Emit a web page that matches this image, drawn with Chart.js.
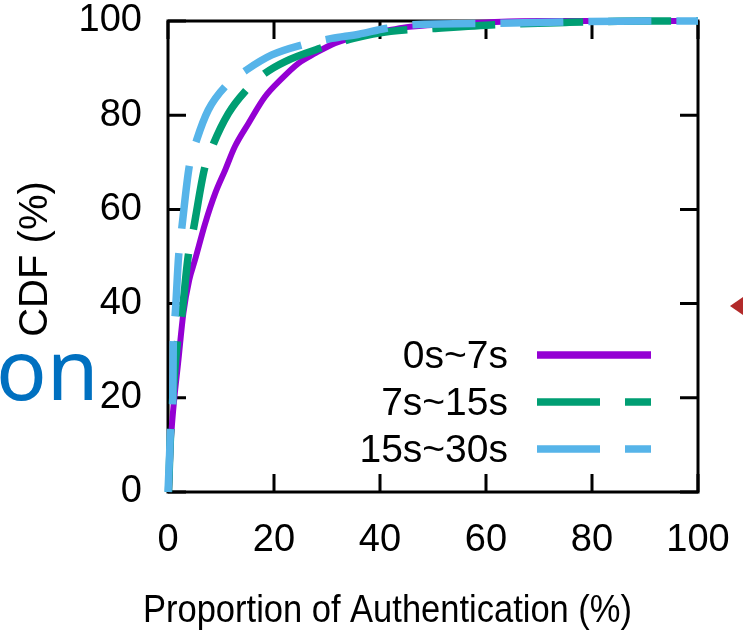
<!DOCTYPE html>
<html>
<head>
<meta charset="utf-8">
<script src="https://cdn.jsdelivr.net/npm/chart.js@4.4.1/dist/chart.umd.min.js"></script>
<style>
  html, body { margin: 0; padding: 0; background: #fff; }
  #wrap { width: 743px; height: 641px; position: relative; }
</style>
</head>
<body>
<div id="wrap"><canvas id="cdfChart"></canvas></div>
<script>
// CDF of authentication proportion, three time windows
const seriesLabels = ['0s~7s', '7s~15s', '15s~30s'];

const shortX = [0.2, 0.5, 0.8, 1.2, 1.9, 2.9, 4.0, 5.1, 7.0, 8.9, 10.8, 12.6, 15.2, 18.3, 21.5, 24.6, 27.7, 31.5, 36, 40.6, 45, 52, 60, 70, 100];
const shortY = [0, 10, 15, 20, 27.3, 38, 45, 49.3, 57.0, 63.4, 68.4, 73.3, 78.3, 83.9, 87.8, 91.0, 93.1, 95.3, 96.8, 97.8, 98.7, 99.3, 99.7, 100, 100];

const midX = [0.1, 0.4, 0.9, 1.7, 2.6, 3.8, 4.8, 6.9, 8.6, 11.4, 14.5, 18.3, 22.1, 28.7, 35, 42, 50, 62, 75, 90, 100];
const midY = [0, 10, 20, 31, 37.5, 50, 55.8, 68.7, 74.0, 80.4, 85.0, 88.9, 91.4, 94.2, 96.3, 97.8, 98.4, 99.2, 99.7, 100, 100];

const longX = [0, 0.3, 0.5, 0.9, 1.0, 1.3, 2.0, 2.6, 4.0, 5.4, 7.6, 10.8, 14.8, 19.6, 25.2, 30.9, 36, 41, 46, 62, 75, 90, 100];
const longY = [0, 8, 14, 19, 32, 37, 50, 56, 69.1, 74.7, 81.1, 86.1, 89.6, 92.8, 94.9, 96.3, 97.2, 98.4, 99.2, 99.5, 99.8, 100, 100];

const axisTicks = [0, 20, 40, 60, 80, 100];

const COLORS = ['#9400d3', '#009e73', '#56b4e9'];
const DASHES = [[], [63, 25], [63, 25]];
const WIDTHS = [6, 7.5, 7.5];
const FONT = '"Liberation Sans", Arial, sans-serif';

const toPoints = (xs, ys) => xs.map((x, i) => ({ x, y: ys[i] }));

/** frame, inward ticks, axis titles, in-plot legend, stray marks from the source page */
const gnuplotDecor = {
  id: 'gnuplotDecor',
  beforeDatasetsDraw(chart) {
    const { ctx, chartArea: a, scales } = chart;
    ctx.save();
    ctx.strokeStyle = '#000';
    ctx.lineWidth = 3;
    ctx.strokeRect(a.left, a.top, a.right - a.left, a.bottom - a.top);
    const tl = 18;
    ctx.beginPath();
    axisTicks.forEach(v => {
      const px = scales.x.getPixelForValue(v);
      ctx.moveTo(px, a.bottom); ctx.lineTo(px, a.bottom - tl);
      ctx.moveTo(px, a.top); ctx.lineTo(px, a.top + tl);
      const py = scales.y.getPixelForValue(v);
      ctx.moveTo(a.left, py); ctx.lineTo(a.left + tl, py);
      ctx.moveTo(a.right, py); ctx.lineTo(a.right - tl, py);
    });
    ctx.stroke();
    ctx.restore();
  },
  afterDraw(chart) {
    const { ctx } = chart;
    ctx.save();
    ctx.fillStyle = '#000';

    // y title
    ctx.font = '40px ' + FONT;
    ctx.textAlign = 'center';
    ctx.textBaseline = 'middle';
    ctx.save();
    ctx.translate(36, 259);
    ctx.rotate(-Math.PI / 2);
    ctx.fillText('CDF (%)', 0, 0);
    ctx.restore();

    // x title (source text is set a little narrow)
    const xt = 'Proportion of Authentication (%)';
    ctx.font = '39px ' + FONT;
    ctx.textBaseline = 'alphabetic';
    const w = ctx.measureText(xt).width;
    ctx.save();
    ctx.translate(387.5, 622);
    ctx.scale(489 / w, 1);
    ctx.fillText(xt, 0, 0);
    ctx.restore();

    // legend
    const rows = [355, 402, 449];
    ctx.font = '39px ' + FONT;
    ctx.textAlign = 'right';
    ctx.textBaseline = 'middle';
    seriesLabels.forEach((lab, i) => {
      ctx.fillStyle = '#000';
      ctx.fillText(lab, 508, rows[i] + 2);
      ctx.strokeStyle = COLORS[i];
      ctx.lineWidth = 7.5;
      ctx.lineCap = 'butt';
      ctx.setLineDash(DASHES[i]);
      ctx.beginPath();
      ctx.moveTo(537, rows[i]);
      ctx.lineTo(651, rows[i]);
      ctx.stroke();
    });
    ctx.setLineDash([]);

    // leftovers from the page the figure was cut from
    ctx.fillStyle = '#0070c0';
    ctx.font = '84px "Noto Sans", sans-serif';
    ctx.textAlign = 'left';
    ctx.textBaseline = 'alphabetic';
    ctx.fillText('on', -4, 400);
    ctx.fillStyle = '#b22a2a';
    ctx.beginPath();
    ctx.moveTo(730, 306);
    ctx.lineTo(743, 297);
    ctx.lineTo(743, 315);
    ctx.closePath();
    ctx.fill();
    ctx.restore();
  }
};

const datasets = [
  { data: toPoints(shortX, shortY), order: 3 },
  { data: toPoints(midX, midY), order: 2 },
  { data: toPoints(longX, longY), order: 1 },
].map((d, i) => ({
  label: seriesLabels[i],
  ...d,
  borderColor: COLORS[i],
  borderWidth: WIDTHS[i],
  borderDash: DASHES[i],
  borderCapStyle: 'butt',
  pointRadius: 0,
  cubicInterpolationMode: 'monotone',
  fill: false,
  clip: false,
}));

const tickFont = { family: FONT, size: 38 };

// fixed axis boxes, no label overflow padding, so the plot frame lands where the source has it
const fixBox = (dim, size) => s => {
  s[dim] = size;
  s.paddingTop = s.paddingBottom = s.paddingLeft = s.paddingRight = 0;
};

new Chart(document.getElementById('cdfChart'), {
  type: 'line',
  data: { datasets },
  options: {
    responsive: true,
    maintainAspectRatio: false,
    animation: false,
    devicePixelRatio: 1,
    layout: { autoPadding: false, padding: { left: 0, top: 21, right: 45, bottom: 0 } },
    plugins: { legend: { display: false }, tooltip: { enabled: false } },
    scales: {
      x: {
        type: 'linear', min: 0, max: 100,
        ticks: { stepSize: 20, color: '#000', font: tickFont, padding: 26, maxRotation: 0 },
        grid: { display: false, drawTicks: false },
        border: { display: false },
        afterFit: fixBox('height', 149),
      },
      y: {
        min: 0, max: 100,
        ticks: { stepSize: 20, color: '#000', font: tickFont, padding: 26 },
        grid: { display: false, drawTicks: false },
        border: { display: false },
        afterFit: fixBox('width', 168),
      }
    }
  },
  plugins: [gnuplotDecor]
});
</script>
</body>
</html>
